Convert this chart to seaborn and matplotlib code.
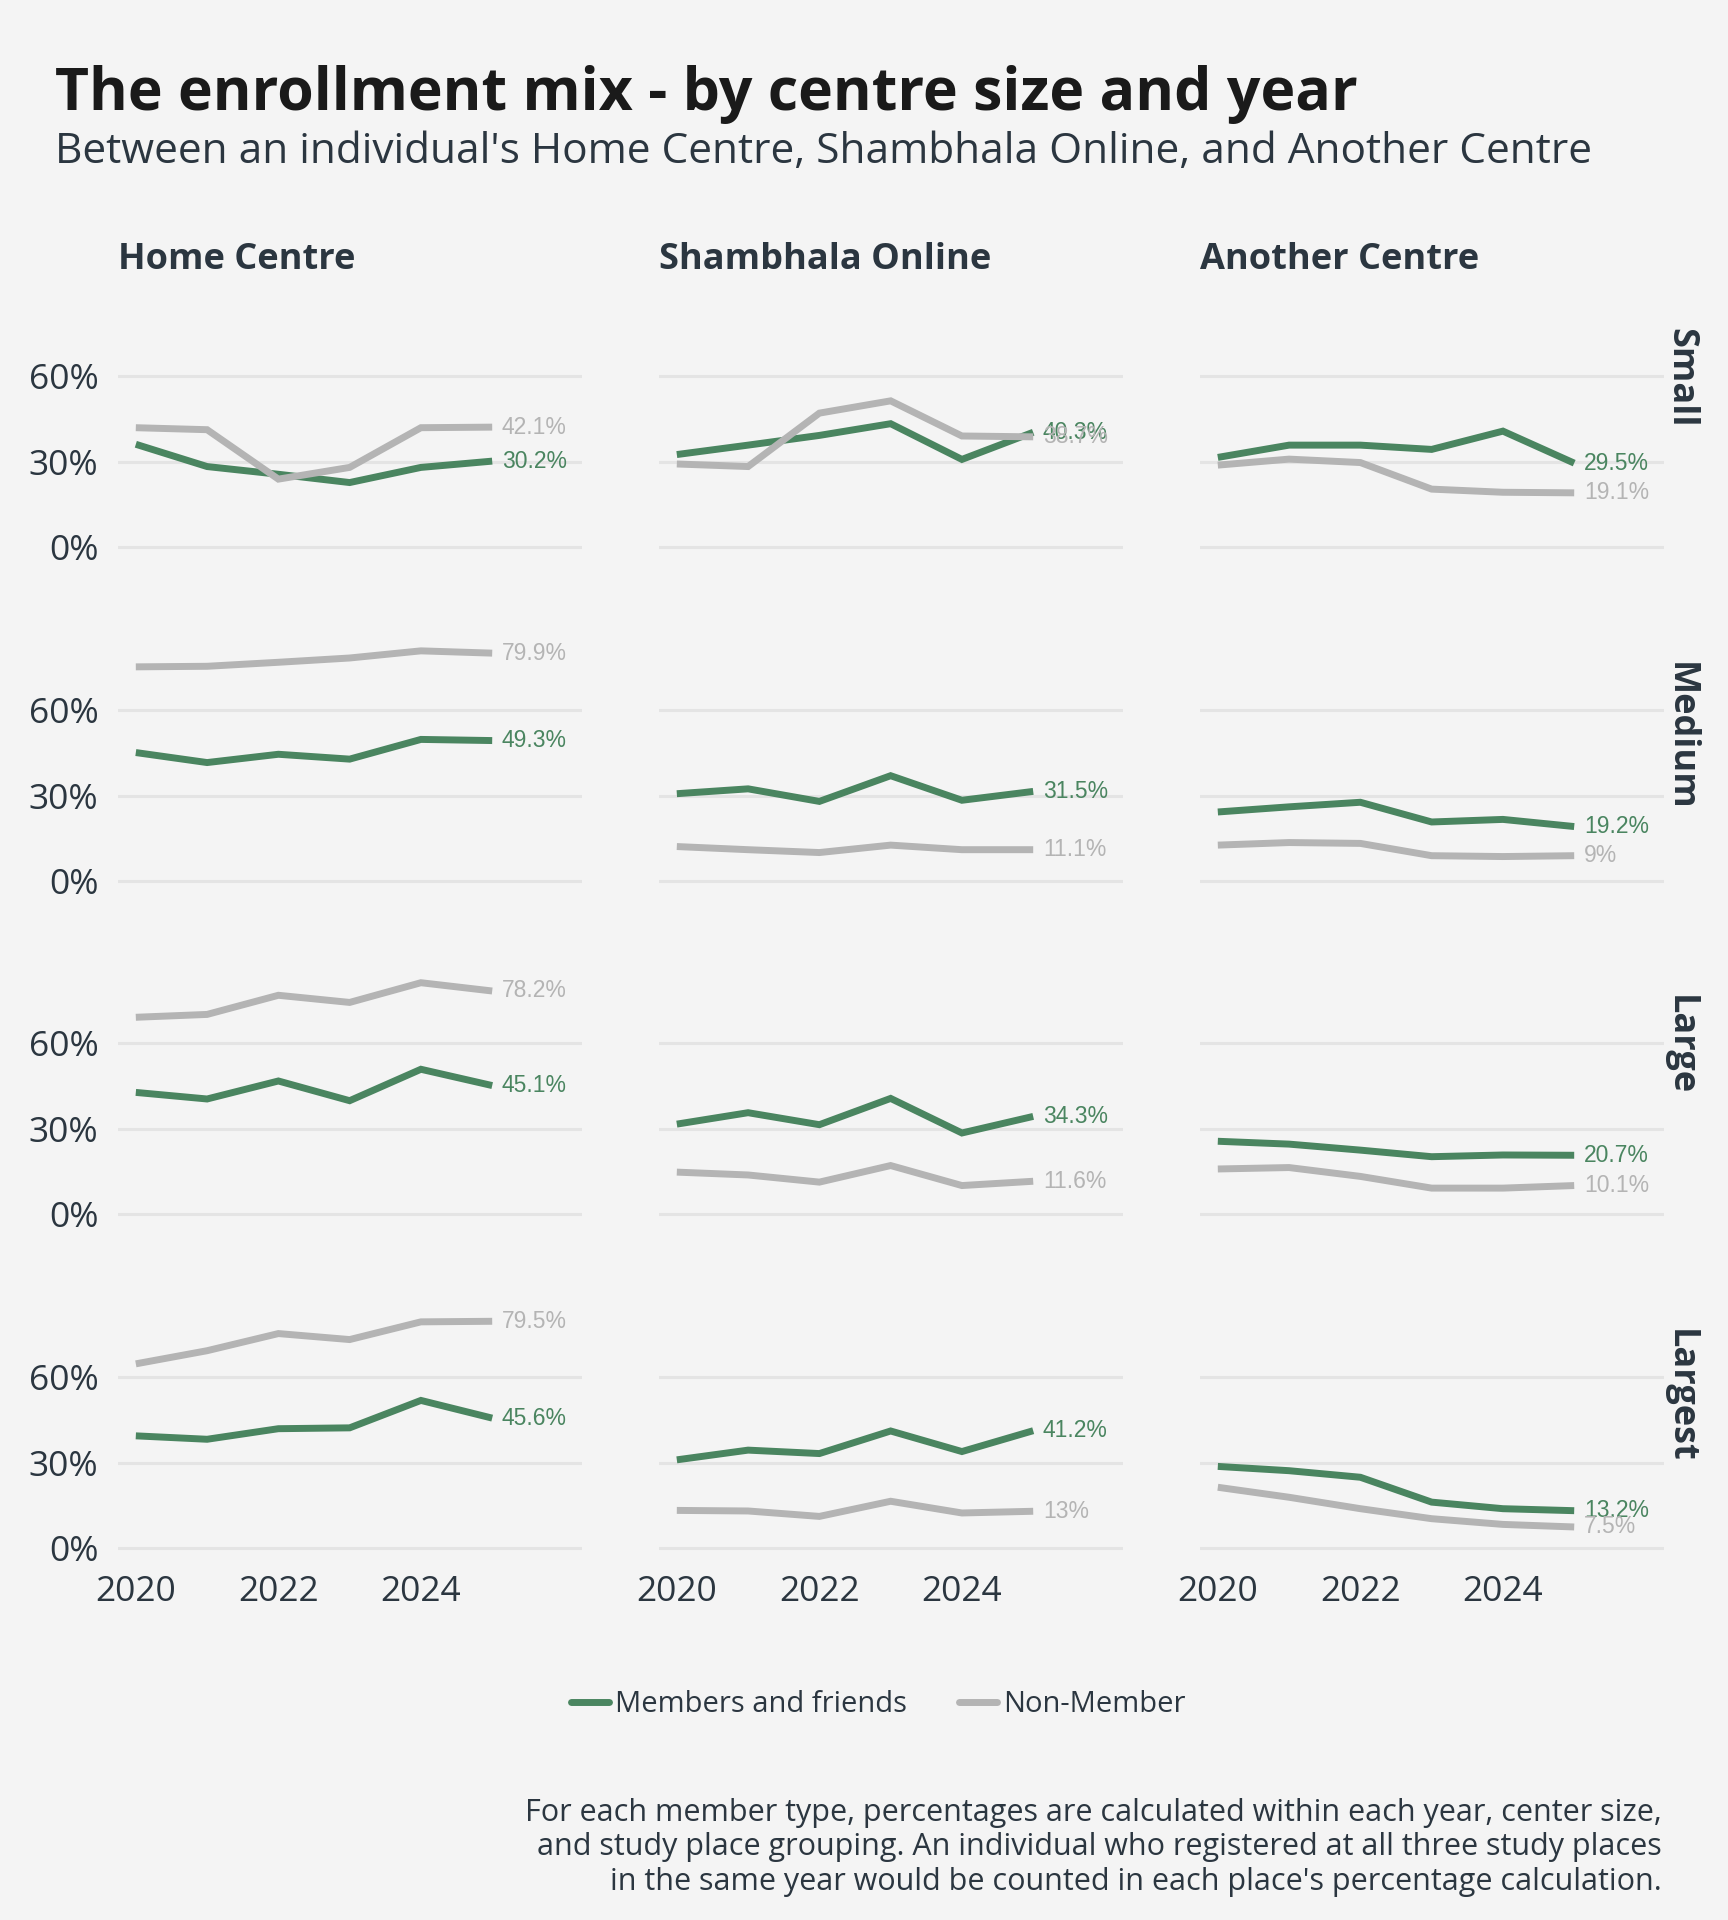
import pandas as pd
import numpy as np
import matplotlib.pyplot as plt
import seaborn as sns

years = [2020, 2021, 2022, 2023, 2024, 2025]
places = ["Home Centre", "Shambhala Online", "Another Centre"]
sizes = ["Small", "Medium", "Large", "Largest"]
member_types = ["Members and friends", "Non-Member"]

# values in %, one row per centre size (Small, Medium, Large, Largest)
home_members = [
    [36.1, 28.3, 25.6, 22.7, 28.0, 30.2],
    [45.1, 41.6, 44.5, 42.8, 49.7, 49.3],
    [42.7, 40.4, 46.7, 39.8, 50.8, 45.1],
    [39.4, 38.2, 41.9, 42.2, 51.8, 45.6],
]
home_non = [
    [41.9, 41.2, 23.9, 28.0, 41.9, 42.1],
    [75.1, 75.3, 76.7, 78.2, 80.7, 79.9],
    [69.0, 70.0, 76.7, 74.2, 81.1, 78.2],
    [64.6, 69.2, 75.2, 73.1, 79.3, 79.5],
]
online_members = [
    [32.5, 35.8, 39.2, 43.3, 30.8, 40.3],
    [30.7, 32.4, 28.0, 37.0, 28.4, 31.5],
    [31.6, 35.6, 31.4, 40.6, 28.5, 34.3],
    [31.0, 34.4, 33.2, 41.1, 33.9, 41.2],
]
online_non = [
    [29.2, 28.3, 47.0, 51.3, 39.0, 38.7],
    [12.2, 11.1, 10.1, 12.7, 11.1, 11.1],
    [14.8, 13.8, 11.3, 17.1, 10.1, 11.6],
    [13.3, 13.1, 11.2, 16.5, 12.4, 13.0],
]
another_members = [
    [31.5, 35.8, 35.8, 34.3, 40.7, 29.5],
    [24.3, 26.1, 27.7, 20.8, 21.7, 19.2],
    [25.6, 24.6, 22.5, 20.2, 20.8, 20.7],
    [28.7, 27.2, 24.9, 16.2, 13.9, 13.2],
]
another_non = [
    [28.8, 30.9, 29.7, 20.4, 19.3, 19.1],
    [12.7, 13.6, 13.3, 9.0, 8.7, 9.0],
    [15.9, 16.4, 13.3, 9.2, 9.2, 10.1],
    [21.4, 17.9, 13.9, 10.4, 8.4, 7.5],
]

series = {
    ("Home Centre", "Members and friends"): home_members,
    ("Home Centre", "Non-Member"): home_non,
    ("Shambhala Online", "Members and friends"): online_members,
    ("Shambhala Online", "Non-Member"): online_non,
    ("Another Centre", "Members and friends"): another_members,
    ("Another Centre", "Non-Member"): another_non,
}
rows = []
for (place, mt), vals in series.items():
    for si, size in enumerate(sizes):
        for yr, v in zip(years, vals[si]):
            rows.append(dict(place=place, member=mt, size=size, year=yr, pct=v))
df = pd.DataFrame(rows)

BG = "#f4f4f4"
GREEN = "#4a8560"
GREY = "#b4b4b4"
TXT = "#2b3640"
palette = {"Members and friends": GREEN, "Non-Member": GREY}

sns.set_style("white", {"axes.facecolor": BG, "figure.facecolor": BG})
plt.rcParams["font.family"] = ["Open Sans", "DejaVu Sans"]

fig = plt.figure(figsize=(17.28, 19.2), dpi=100, facecolor=BG)
W, H = 1728.0, 1920.0
lefts = [118, 659, 1200]
ax_w = 464
tops = [304, 638, 971, 1305]
ax_h = 255

for ri, size in enumerate(sizes):
    for ci, place in enumerate(places):
        ax = fig.add_axes([lefts[ci] / W, 1 - (tops[ri] + ax_h) / H, ax_w / W, ax_h / H])
        sub = df[(df["place"] == place) & (df["size"] == size)]
        sns.lineplot(data=sub, x="year", y="pct", hue="member", palette=palette,
                     hue_order=member_types, linewidth=5.0, legend=False, ax=ax)
        for line in ax.lines:
            line.set_solid_capstyle("butt")
            line.set_solid_joinstyle("miter")
        for mt in member_types:
            last = sub[(sub["member"] == mt) & (sub["year"] == years[-1])]["pct"].iloc[0]
            ax.annotate(f"{last:g}%", (years[-1], last), xytext=(7, 0),
                        textcoords="offset points", va="center", ha="left",
                        fontsize=16.5, color=palette[mt], family="Liberation Sans")
        ax.set_xlim(2019.75, 2026.26)
        ax.set_ylim(-4.06, 85.2)
        ax.set_yticks([0, 30, 60])
        ax.set_xticks([2020, 2022, 2024])
        ax.grid(True, axis="y", color="#e4e4e4", linewidth=2.2)
        ax.grid(False, axis="x")
        ax.set_axisbelow(True)
        for s in ax.spines.values():
            s.set_visible(False)
        ax.tick_params(length=0)
        ax.set_xlabel("")
        ax.set_ylabel("")
        if ci == 0:
            ax.set_yticklabels(["0%", "30%", "60%"], fontsize=25.5, color=TXT)
            ax.tick_params(axis="y", pad=14)
        else:
            ax.set_yticklabels([])
        if ri == len(sizes) - 1:
            ax.set_xticklabels(["2020", "2022", "2024"], fontsize=25.5, color=TXT)
            ax.tick_params(axis="x", pad=11)
        else:
            ax.set_xticklabels([])
        if ri == 0:
            fig.text(lefts[ci] / W, 1 - 269 / H, place, fontsize=26, fontweight="bold",
                     color=TXT, ha="left", va="baseline")
        if ci == 2:
            fig.text(1680 / W, 1 - (tops[ri] + 24) / H, size, rotation=270, fontsize=26,
                     fontweight="bold", color=TXT, ha="center", va="top")

fig.text(55 / W, 1 - 110 / H, "The enrollment mix - by centre size and year",
         fontsize=42.5, fontweight="bold", color="#1a1a1a", ha="left", va="baseline")
fig.text(55 / W, 1 - 163 / H,
         "Between an individual's Home Centre, Shambhala Online, and Another Centre",
         fontsize=30.5, color=TXT, ha="left", va="baseline")

handles = [plt.Line2D([], [], color=palette[m], linewidth=5.0) for m in member_types]
fig.legend(handles, member_types, loc="center", bbox_to_anchor=(878 / W, 1 - 1705 / H),
           ncol=2, frameon=False, fontsize=21, handlelength=1.3, handletextpad=0.2,
           columnspacing=1.8, labelcolor=TXT)

caption = ("For each member type, percentages are calculated within each year, center size,\n"
           "and study place grouping. An individual who registered at all three study places\n"
           "in the same year would be counted in each place's percentage calculation.")
fig.text(1662 / W, 1 - 1890 / H, caption, fontsize=22, color=TXT, ha="right",
         va="baseline", linespacing=1.2, multialignment="right")

fig.savefig("out.png", dpi=100, facecolor=BG)
